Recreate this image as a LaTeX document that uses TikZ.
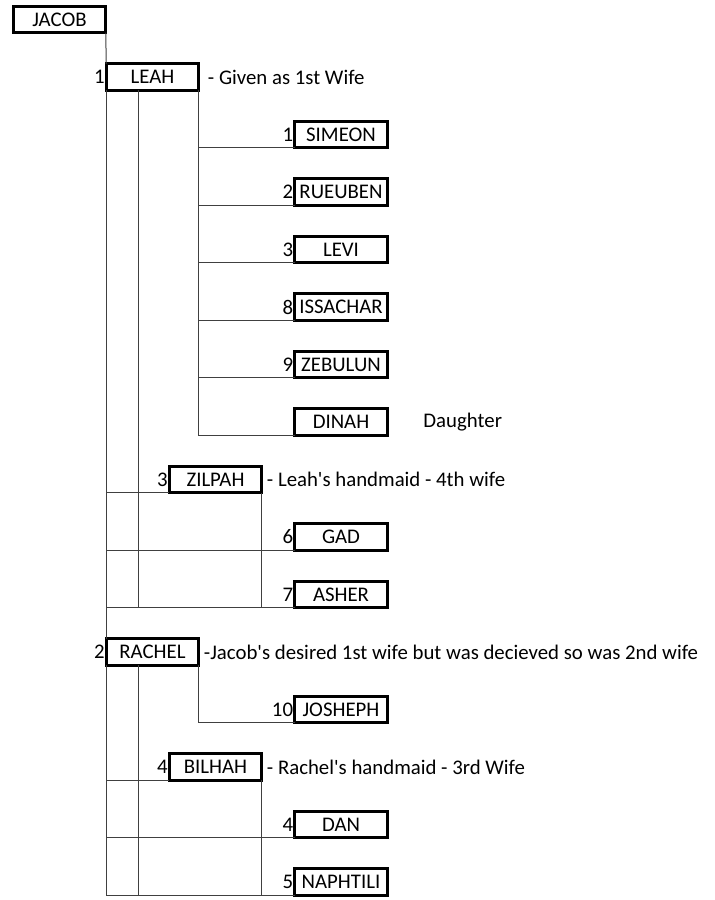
\documentclass[tikz,border=0pt]{standalone}
\usepackage{fontspec}
\setmainfont{Carlito}
\usetikzlibrary{positioning}

\begin{document}
\begin{tikzpicture}[x=1pt, y=-1pt,
        font=\fontsize{20.8}{25}\selectfont,
        person/.style={draw, line width=3pt, minimum width=92.5pt, minimum height=26.5pt, inner sep=0pt, outer sep=0pt},
        note/.style={inner sep=0pt},
        every label/.style={inner sep=1.5pt},
        tree/.style={line width=1pt, black!75}]
        \useasboundingbox (0, 0) rectangle (715, 900);

        \node[person] (jacob) at (59.5, 19.5) {JACOB};
        \node[person, label={180:1}] (leah) at (152.5, 77) {LEAH};
        \node[person, label={180:1}] (simeon) at (341, 134.5) {SIMEON};
        \node[person, label={180:2}] (rueuben) at (341, 192) {RUEUBEN};
        \node[person, label={180:3}] (levi) at (341, 249.5) {LEVI};
        \node[person, label={180:8}] (issachar) at (341, 307) {ISSACHAR};
        \node[person, label={180:9}] (zebulun) at (341, 364.5) {ZEBULUN};
        \node[person] (dinah) at (341, 422) {DINAH};
        \node[person, label={180:3}] (zilpah) at (215.5, 479.5) {ZILPAH};
        \node[person, label={180:6}] (gad) at (341, 537) {GAD};
        \node[person, label={180:7}] (asher) at (341, 594.5) {ASHER};
        \node[person, label={180:2}] (rachel) at (152.5, 652) {RACHEL};
        \node[person, label={180:10}] (josheph) at (341, 709.5) {JOSHEPH};
        \node[person, label={180:4}] (bilhah) at (215.5, 767) {BILHAH};
        \node[person, label={180:4}] (dan) at (341, 824.5) {DAN};
        \node[person, label={180:5}] (naphtili) at (341, 882) {NAPHTILI};

        \node[note, right=9pt of leah] (leahnote) {- Given as 1st Wife};
        \node[note, right=36pt of dinah] (dinahnote) {Daughter};
        \node[note, right=5pt of zilpah] (zilpahnote) {- Leah\textquotesingle s handmaid - 4th wife};
        \node[note, right=5pt of rachel] (rachelnote) {-Jacob\textquotesingle s desired 1st wife but was decieved so was 2nd wife};
        \node[note, right=5pt of bilhah] (bilhahnote) {- Rachel\textquotesingle s handmaid - 3rd Wife};

        \coordinate (leahmid) at (138, 90);
        \coordinate (rachelmid) at (138, 665);

        \draw[tree] (jacob.south east) -- (leah.north west);
        \draw[tree] (leah.south west) |- (asher.south west);
        \draw[tree] (asher.south west -| leah.south west) -- (rachel.north west);
        \draw[tree] (rachel.south west) |- (naphtili.south west);

        \draw[tree] (leah.south east) |- (dinah.south west);
        \foreach \c in {simeon, rueuben, levi, issachar, zebulun}
            \draw[tree] (leah.south east |- \c.south west) -- (\c.south west);
        \draw[tree] (leahmid) -- (leahmid |- asher.south);
        \draw[tree] (leah.south west |- zilpah.south) -- (zilpah.south west);
        \draw[tree] (leah.south west |- gad.south) -- (gad.south west);
        \draw[tree] (zilpah.south east) -- (zilpah.south east |- asher.south);

        \draw[tree] (rachel.south east) |- (josheph.south west);
        \draw[tree] (rachelmid) -- (rachelmid |- naphtili.south);
        \draw[tree] (rachel.south west |- bilhah.south) -- (bilhah.south west);
        \draw[tree] (rachel.south west |- dan.south) -- (dan.south west);
        \draw[tree] (bilhah.south east) -- (bilhah.south east |- naphtili.south);
    \end{tikzpicture}
\end{document}
